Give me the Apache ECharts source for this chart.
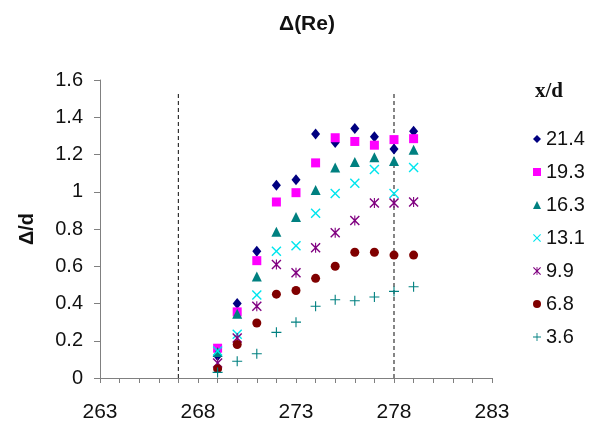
<!DOCTYPE html>
<html>
<head>
<meta charset="utf-8">
<script src="https://cdn.jsdelivr.net/npm/echarts@6/dist/echarts.min.js"></script>
<style>
html,body{margin:0;padding:0;background:#fff;}
#chart{width:595px;height:423px;}
</style>
</head>
<body>
<div id="chart"></div>
<script>
// ---- data ----
const xValues = [269, 270, 271, 272, 273, 274, 275, 276, 277, 278, 279];
const seriesNames = ['21.4', '19.3', '16.3', '13.1', '9.9', '6.8', '3.6'];
const s21_4 = [0.12, 0.40, 0.68, 1.035, 1.065, 1.31, 1.265, 1.34, 1.295, 1.23, 1.325];
const s19_3 = [0.16, 0.355, 0.63, 0.945, 0.995, 1.155, 1.29, 1.27, 1.25, 1.28, 1.285];
const s16_3 = [0.14, 0.345, 0.545, 0.785, 0.865, 1.01, 1.13, 1.16, 1.185, 1.165, 1.225];
const s13_1 = [0.145, 0.235, 0.445, 0.68, 0.71, 0.885, 0.99, 1.045, 1.12, 0.99, 1.13];
const s9_9 = [0.08, 0.215, 0.385, 0.61, 0.565, 0.70, 0.78, 0.845, 0.94, 0.94, 0.945];
const s6_8 = [0.05, 0.18, 0.295, 0.45, 0.47, 0.535, 0.60, 0.675, 0.675, 0.66, 0.66];
const s3_6 = [0.03, 0.09, 0.13, 0.245, 0.30, 0.385, 0.42, 0.415, 0.435, 0.465, 0.49];
const refLinesX = [267, 278];
const refLineTop = 1.53;
const xTickLabels = [263, 268, 273, 278, 283];

// ---- styles ----
const X_PATH = 'path://M0,1 L1,0 L5,4 L9,0 L10,1 L6,5 L10,9 L9,10 L5,6 L1,10 L0,9 L4,5 Z';
const AST_PATH = 'path://M0,1 L1,0 L5,4 L9,0 L10,1 L6,5 L10,9 L9,10 L5,6 L1,10 L0,9 L4,5 Z M4.45,0 L5.55,0 L5.55,10 L4.45,10 Z';
const PLUS_PATH = 'path://M4.45,0 L5.55,0 L5.55,4.45 L10,4.45 L10,5.55 L5.55,5.55 L5.55,10 L4.45,10 L4.45,5.55 L0,5.55 L0,4.45 L4.45,4.45 Z';
const styles = [
  {symbol: 'diamond', size: [9, 11], color: '#000080'},
  {symbol: 'rect', size: 9, color: '#FF00FF'},
  {symbol: 'triangle', size: 10, color: '#008080'},
  {symbol: X_PATH, size: 10, color: '#00E5EE'},
  {symbol: AST_PATH, size: 10, color: '#800080'},
  {symbol: 'circle', size: 9, color: '#800000'},
  {symbol: PLUS_PATH, size: 10, color: '#008080'}
];
const allSeries = [s21_4, s19_3, s16_3, s13_1, s9_9, s6_8, s3_6];

const series = [];
refLinesX.forEach(function (xv) {
  series.push({
    type: 'line',
    data: [[xv, 0], [xv, refLineTop]],
    symbol: 'none',
    silent: true,
    lineStyle: {color: '#333', width: 1.2, type: [4, 3]},
    z: 1
  });
});
allSeries.forEach(function (vals, i) {
  series.push({
    name: seriesNames[i],
    type: 'scatter',
    symbol: styles[i].symbol,
    symbolSize: styles[i].size,
    itemStyle: {color: styles[i].color, opacity: 1},
    data: xValues.map(function (x, k) { return [x, vals[k]]; }),
    z: 3
  });
});

const chart = echarts.init(document.getElementById('chart'), null, {renderer: 'canvas'});
chart.setOption({
  animation: false,
  backgroundColor: '#fff',
  title: {
    text: 'Δ(Re)',
    left: 302,
    top: 9,
    textAlign: 'center',
    textStyle: {fontFamily: 'Liberation Sans', fontWeight: 'bold', fontSize: 21, color: '#111'}
  },
  graphic: [{
    type: 'text',
    left: 535,
    top: 81,
    style: {text: 'x/d', font: 'bold 21px "Liberation Serif"', fill: '#111'}
  }],
  legend: {
    orient: 'vertical',
    left: 528,
    top: 124,
    itemWidth: 8,
    itemHeight: 8,
    itemGap: 13,
    data: seriesNames,
    textStyle: {fontFamily: 'Liberation Sans', fontSize: 20, color: '#111', lineHeight: 20},
    selectedMode: false
  },
  grid: {left: 100, right: 103, top: 80, bottom: 41, containLabel: false},
  xAxis: {
    type: 'value',
    min: 263,
    max: 283,
    interval: 1,
    splitLine: {show: false},
    axisLine: {show: true, lineStyle: {color: '#808080', width: 1}},
    axisTick: {show: true, inside: false, length: 5, lineStyle: {color: '#808080'}},
    axisLabel: {
      margin: 24,
      fontFamily: 'Liberation Sans',
      fontSize: 21,
      color: '#111',
      formatter: function (v) { return xTickLabels.indexOf(Math.round(v)) >= 0 ? String(Math.round(v)) : ''; }
    }
  },
  yAxis: {
    type: 'value',
    min: 0,
    max: 1.6,
    interval: 0.2,
    name: 'Δ/d',
    nameLocation: 'middle',
    nameGap: 63,
    nameRotate: 90,
    nameTextStyle: {fontFamily: 'Liberation Sans', fontWeight: 'bold', fontSize: 20, color: '#111'},
    splitLine: {show: false},
    axisLine: {show: true, lineStyle: {color: '#808080', width: 1}},
    axisTick: {show: true, inside: false, length: 6, lineStyle: {color: '#808080'}},
    axisLabel: {margin: 17, fontFamily: 'Liberation Sans', fontSize: 20, color: '#111'}
  },
  series: series
});
</script>
</body>
</html>
